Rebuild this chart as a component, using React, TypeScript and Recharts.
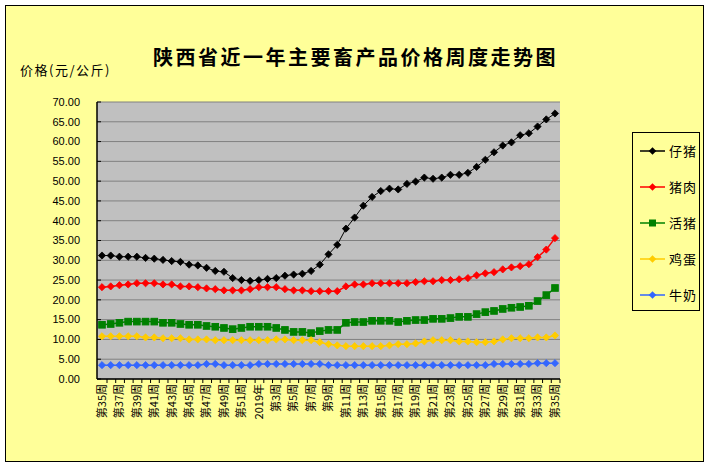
import React from 'react';
import { LineChart, Line, XAxis, YAxis, CartesianGrid, Legend } from 'recharts';

const weeks: string[] = [
  '第35周','第36周','第37周','第38周','第39周','第40周','第41周','第42周','第43周','第44周',
  '第45周','第46周','第47周','第48周','第49周','第50周','第51周','第52周','2019年',
  '第2周','第3周','第4周','第5周','第6周','第7周','第8周','第9周','第10周','第11周','第12周',
  '第13周','第14周','第15周','第16周','第17周','第18周','第19周','第20周','第21周','第22周',
  '第23周','第24周','第25周','第26周','第27周','第28周','第29周','第30周','第31周','第32周',
  '第33周','第34周','第35周',
];

const piglet: number[] = [
  31.2,31.2,30.9,30.9,30.9,30.6,30.4,30.1,29.8,29.6,28.9,28.7,28.1,27.3,27.1,25.5,25.0,24.8,25.0,25.3,
  25.5,26.1,26.4,26.6,27.3,28.9,31.5,33.9,38.0,40.8,43.8,46.0,47.5,48.1,47.9,49.3,49.9,50.9,50.6,50.9,
  51.6,51.6,52.1,53.6,55.4,57.3,59.0,59.8,61.6,62.1,63.8,65.6,67.1,
];
const pork: number[] = [
  23.2,23.4,23.7,23.9,24.2,24.2,24.2,23.9,23.9,23.4,23.4,23.2,22.9,22.7,22.4,22.4,22.4,22.7,23.2,23.2,
  23.2,22.7,22.4,22.4,22.2,22.2,22.2,22.2,23.4,23.9,23.9,24.2,24.2,24.2,24.2,24.2,24.5,24.7,24.7,25.0,
  25.0,25.2,25.5,26.2,26.7,27.0,27.7,28.2,28.5,29.0,30.8,32.7,35.6,
];
const livePig: number[] = [
  13.7,13.9,14.2,14.5,14.5,14.5,14.5,14.2,14.2,13.9,13.7,13.7,13.4,13.2,12.9,12.6,12.9,13.2,13.2,13.2,
  12.9,12.4,11.9,11.9,11.6,12.1,12.4,12.4,14.2,14.4,14.4,14.7,14.7,14.7,14.4,14.7,14.9,14.9,15.2,15.2,
  15.4,15.7,15.7,16.4,16.9,17.2,17.7,18.0,18.2,18.5,19.7,21.2,23.0,
];
const egg: number[] = [
  10.8,10.8,10.8,10.8,10.8,10.5,10.5,10.3,10.3,10.3,10.0,10.0,10.0,9.8,9.8,9.8,9.8,9.8,9.8,9.8,
  10.0,10.0,9.8,9.8,9.8,9.3,8.8,8.5,8.3,8.3,8.3,8.3,8.3,8.5,8.8,8.8,9.0,9.5,9.8,9.8,
  9.8,9.5,9.5,9.3,9.3,9.5,10.0,10.3,10.3,10.3,10.5,10.5,11.0,
];
const milk: number[] = [
  3.5,3.5,3.5,3.5,3.5,3.5,3.5,3.5,3.5,3.5,3.5,3.5,3.8,3.8,3.5,3.5,3.5,3.5,3.8,3.8,
  3.8,3.8,3.8,3.8,3.8,3.8,3.5,3.5,3.5,3.5,3.5,3.5,3.5,3.5,3.5,3.5,3.5,3.5,3.5,3.5,
  3.5,3.5,3.5,3.5,3.5,3.8,3.8,3.8,3.8,3.8,4.0,4.0,4.0,
];

const yTicks: number[] = [0, 5, 10, 15, 20, 25, 30, 35, 40, 45, 50, 55, 60, 65, 70];

const seriesNames = ['仔猪', '猪肉', '活猪', '鸡蛋', '牛奶'];
const seriesColors = ['#000000', '#FF0000', '#008000', '#FFCC00', '#3366FF'];
const seriesShapes = ['diamond', 'diamond', 'square', 'diamond', 'diamond'];
const seriesKeys = ['piglet', 'pork', 'livePig', 'egg', 'milk'];
const seriesWidths = [1, 1.5, 1.5, 1.5, 1.5];

const data = weeks.map((w, i) => ({
  week: w,
  piglet: piglet[i],
  pork: pork[i],
  livePig: livePig[i],
  egg: egg[i],
  milk: milk[i],
}));

const FONT = '"Noto Sans CJK SC", "Liberation Sans", sans-serif';

function makeDot(color: string, shape: string) {
  return (props: any) => {
    const { cx, cy, index } = props;
    if (cx == null || cy == null) return <g key={index} />;
    if (shape === 'square') {
      return <rect key={index} x={cx - 3.3} y={cy - 3.3} width={6.6} height={6.6} fill={color} stroke={color} />;
    }
    const r = 3.6;
    return (
      <polygon
        key={index}
        points={`${cx},${cy - r} ${cx + r},${cy} ${cx},${cy + r} ${cx - r},${cy}`}
        fill={color}
        stroke={color}
        strokeWidth={0.8}
      />
    );
  };
}

const XTick = (props: any) => {
  const { x, y, payload, index } = props;
  const i = payload && payload.index != null ? payload.index : index;
  const show = i % 2 === 0;
  return (
    <g>
      <line x1={x + 5} y1={y} x2={x + 5} y2={y + 4} stroke="#000" strokeWidth={1} />
      {show && (
        <text
          x={x}
          y={y + 5}
          transform={`rotate(-90, ${x}, ${y + 5})`}
          textAnchor="end"
          dy="0.35em"
          fontSize={11}
          fontFamily={FONT}
          fill="#000"
        >
          {payload.value}
        </text>
      )}
    </g>
  );
};

const YTick = (props: any) => {
  const { x, y, payload } = props;
  return (
    <g>
      <line x1={x} y1={y} x2={x + 4} y2={y} stroke="#000" strokeWidth={1} />
      <text x={x - 17} y={y} dy="0.35em" textAnchor="end" fontSize={11} fontFamily='"Liberation Sans", sans-serif' fill="#000">
        {Number(payload.value).toFixed(2)}
      </text>
    </g>
  );
};

const LegendBox = () => (
  <div
    style={{
      width: 68,
      height: 179,
      border: '1px solid #000',
      boxSizing: 'border-box',
      background: '#FFFF99',
      position: 'relative',
    }}
  >
    {seriesNames.map((n, i) => (
      <div key={n} style={{ position: 'absolute', left: 0, top: 11 + i * 36, height: 14, display: 'flex', alignItems: 'center' }}>
        <svg width={36} height={14} style={{ display: 'block' }}>
          <line x1={7} y1={7} x2={32} y2={7} stroke={seriesColors[i]} strokeWidth={1.5} />
          {seriesShapes[i] === 'square' ? (
            <rect x={16} y={3.5} width={7} height={7} fill={seriesColors[i]} />
          ) : (
            <polygon points="19.5,3.2 23.3,7 19.5,10.8 15.7,7" fill={seriesColors[i]} />
          )}
        </svg>
        <span style={{ fontFamily: FONT, fontSize: 13, lineHeight: '14px', color: '#000', letterSpacing: 1 }}>{n}</span>
      </div>
    ))}
  </div>
);

export default function App() {
  return (
    <div style={{ position: 'absolute', left: 0, top: 0, width: 709, height: 466, background: '#fff' }}>
      <div
        style={{
          position: 'absolute',
          left: 5,
          top: 5,
          width: 699,
          height: 457,
          background: '#FFFF99',
          border: '1.5px solid #000',
          boxSizing: 'border-box',
        }}
      />
      <div
        style={{
          position: 'absolute',
          left: 0,
          width: 709,
          top: 44,
          textAlign: 'center',
          fontFamily: FONT,
          fontSize: 20,
          fontWeight: 'bold',
          letterSpacing: 2.5,
          lineHeight: '26px',
          color: '#000',
          paddingLeft: 2,
          boxSizing: 'border-box',
        }}
      >
        陕西省近一年主要畜产品价格周度走势图
      </div>
      <div
        style={{
          position: 'absolute',
          left: 20,
          top: 61,
          fontFamily: FONT,
          fontSize: 13,
          letterSpacing: 1.5,
          lineHeight: '18px',
          color: '#000',
        }}
      >
        价格(元/公斤)
      </div>
      <div style={{ position: 'absolute', left: 0, top: 0 }}>
        <LineChart
          width={709}
          height={466}
          data={data}
          margin={{ top: 102, right: 81, bottom: 37, left: 37 }}
        >
          <CartesianGrid vertical={false} stroke="#808080" strokeWidth={1} fill="#C0C0C0" />
          <XAxis
            dataKey="week"
            interval={0}
            padding={{ left: 5, right: 5 }}
            height={50}
            tickLine={false}
            tickSize={0}
            tickMargin={0}
            tick={<XTick />}
            axisLine={{ stroke: '#000', strokeWidth: 1.5 }}
          />
          <YAxis
            width={60}
            domain={[0, 70]}
            ticks={yTicks}
            interval={0}
            tickLine={false}
            tickSize={0}
            tickMargin={0}
            tick={<YTick />}
            axisLine={{ stroke: '#000', strokeWidth: 1.5 }}
          />
          <YAxis
            yAxisId="right"
            orientation="right"
            width={0}
            domain={[0, 70]}
            tick={false}
            tickLine={false}
            axisLine={{ stroke: '#808080', strokeWidth: 1.5 }}
          />
          <Legend
            layout="vertical"
            align="right"
            verticalAlign="top"
            wrapperStyle={{ position: 'absolute', left: 632, top: 132, width: 68, height: 179 }}
            content={() => <LegendBox />}
          />
          {seriesKeys.map((k, i) => (
            <Line
              key={k}
              dataKey={k}
              name={seriesNames[i]}
              stroke={seriesColors[i]}
              strokeWidth={seriesWidths[i]}
              dot={makeDot(seriesColors[i], seriesShapes[i])}
              activeDot={false}
              isAnimationActive={false}
              type="linear"
            />
          ))}
        </LineChart>
      </div>
    </div>
  );
}
